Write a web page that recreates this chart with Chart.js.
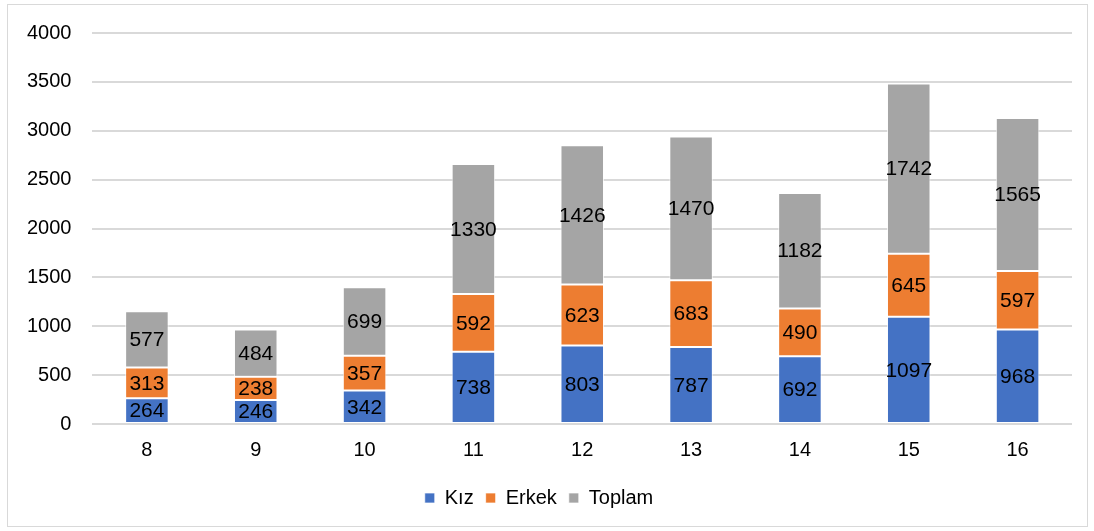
<!DOCTYPE html>
<html>
<head>
<meta charset="utf-8">
<script src="https://cdn.jsdelivr.net/npm/chart.js@4"></script>
<style>
  html, body { margin: 0; padding: 0; background: #fff; }
  #wrap { width: 1094px; height: 531px; position: relative; }
</style>
</head>
<body>
<div id="wrap"><canvas id="chart"></canvas></div>
<script>
const ages = ['8', '9', '10', '11', '12', '13', '14', '15', '16'];
const kiz = [264, 246, 342, 738, 803, 787, 692, 1097, 968];
const erkek = [313, 238, 357, 592, 623, 683, 490, 645, 597];
const toplam = [577, 484, 699, 1330, 1426, 1470, 1182, 1742, 1565];

const FONT = "'Liberation Sans', Arial, sans-serif";

// draw the value in the middle of each stacked segment
const barLabels = {
    id: 'barLabels',
    afterDatasetsDraw (chart) {
        const ctx = chart.ctx;
        ctx.save();
        ctx.font = '21px ' + FONT;
        ctx.fillStyle = '#000';
        ctx.textAlign = 'center';
        ctx.textBaseline = 'middle';
        chart.data.datasets.forEach((ds, i) => {
            chart.getDatasetMeta(i).data.forEach((bar, j) => {
                const mid = (bar.y + bar.base) / 2;
                ctx.fillText(ds.data[j], bar.x, mid + 1);
            });
        });
        ctx.restore();
    }
};

// light frame round the whole chart
const frame = {
    id: 'frame',
    beforeDraw (chart) {
        const ctx = chart.ctx;
        ctx.save();
        ctx.strokeStyle = '#d9d9d9';
        ctx.lineWidth = 1;
        ctx.strokeRect(7.5, 4.5, 1080, 522);
        ctx.restore();
    }
};

new Chart(document.getElementById('chart'), {
    type: 'bar',
    data: {
        labels: ages,
        datasets: [
            { label: 'Kız', data: kiz, backgroundColor: '#4472C4' },
            { label: 'Erkek', data: erkek, backgroundColor: '#ED7D31' },
            { label: 'Toplam', data: toplam, backgroundColor: '#A5A5A5' }
        ]
    },
    options: {
        responsive: true,
        maintainAspectRatio: false,
        animation: false,
        devicePixelRatio: 1,
        datasets: {
            bar: {
                barPercentage: 0.4,
                categoryPercentage: 1,
                borderWidth: 1,
                borderColor: 'rgba(255,255,255,0.7)',
                borderSkipped: false
            }
        },
        layout: {
            padding: { left: 6, right: 22, top: 33, bottom: 13 }
        },
        scales: {
            x: {
                stacked: true,
                grid: { display: false, drawTicks: false },
                border: { display: false },
                ticks: { color: '#000', font: { family: FONT, size: 20 }, padding: 14 }
            },
            y: {
                stacked: true,
                min: 0,
                max: 4000,
                grid: { color: '#d9d9d9', lineWidth: 2, drawTicks: false },
                border: { display: false },
                ticks: {
                    stepSize: 500,
                    color: '#000',
                    font: { family: FONT, size: 20 },
                    padding: 21,
                    callback: (value) => String(value)
                }
            }
        },
        plugins: {
            legend: {
                position: 'bottom',
                labels: {
                    color: '#000',
                    font: { family: FONT, size: 20 },
                    boxWidth: 10,
                    boxHeight: 10,
                    padding: 12
                }
            },
            tooltip: { enabled: false }
        }
    },
    plugins: [barLabels, frame]
});
</script>
</body>
</html>
